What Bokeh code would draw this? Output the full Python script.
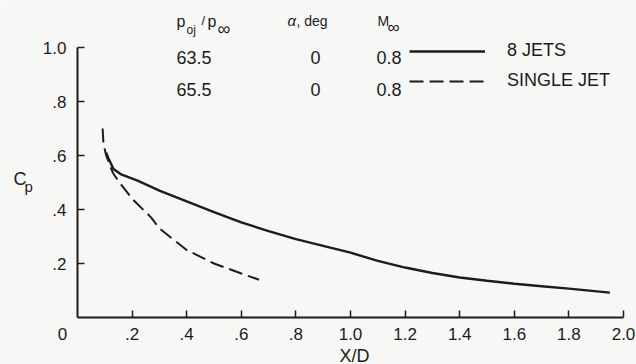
from bokeh.plotting import figure
from bokeh.models import Range1d, Label, Legend, LegendItem, FixedTicker
from bokeh.embed import file_html
from bokeh.resources import INLINE
from bokeh.core.properties import value

# ---- data ----
x_8jets = [0.105, 0.113, 0.132, 0.16, 0.22, 0.30, 0.40, 0.50, 0.60, 0.70, 0.80, 0.90,
           1.00, 1.10, 1.20, 1.30, 1.40, 1.50, 1.60, 1.70, 1.80, 1.95]
cp_8jets = [0.61, 0.59, 0.55, 0.53, 0.507, 0.47, 0.43, 0.39, 0.352, 0.32, 0.29, 0.265,
            0.24, 0.21, 0.185, 0.165, 0.148, 0.136, 0.125, 0.116, 0.107, 0.092]
x_single = [0.092, 0.095, 0.105, 0.13, 0.15, 0.20, 0.27, 0.30, 0.40, 0.50, 0.60, 0.665]
cp_single = [0.70, 0.645, 0.60, 0.535, 0.505, 0.44, 0.37, 0.33, 0.25, 0.20, 0.163, 0.14]

x_ticks = [0.2, 0.4, 0.6, 0.8, 1.0, 1.2, 1.4, 1.6, 1.8, 2.0]
x_tick_labels = [".2", ".4", ".6", ".8", "1.0", "1.2", "1.4", "1.6", "1.8", "2.0"]
y_ticks = [0.2, 0.4, 0.6, 0.8, 1.0]
y_tick_labels = [".2", ".4", ".6", ".8", "1.0"]

ratio_vals = ["63.5", "65.5"]
alpha_vals = ["0", "0"]
mach_vals = ["0.8", "0.8"]
series_names = ["8 JETS", "SINGLE JET"]

# ---- layout (pixel geometry of the reference) ----
W, H = 636, 364
X0PX, X2PX, Y0PX, Y1PX = 77, 623, 317, 47
PXU_X = (X2PX - X0PX) / 2.0
PXU_Y = (Y0PX - Y1PX) / 1.0

def dx(px):
    return (px - X0PX) / PXU_X

def dy(py):
    return (Y0PX - py) / PXU_Y

FONT = "Liberation Sans"
INK = "#1c1c1c"
BG = "#f7f7f5"

p = figure(width=W, height=H, output_backend="svg", toolbar_location=None,
           x_range=Range1d(dx(0), dx(W)), y_range=Range1d(dy(H), dy(0)),
           min_border=0)
p.background_fill_color = BG
p.border_fill_color = BG
p.outline_line_color = None
p.xgrid.visible = False
p.ygrid.visible = False

for ax, ticks, labels, bnds in ((p.xaxis[0], x_ticks, x_tick_labels, (0, 2.0)),
                                (p.yaxis[0], y_ticks, y_tick_labels, (0, 1.0))):
    ax.fixed_location = 0
    ax.ticker = FixedTicker(ticks=ticks)
    ax.major_label_overrides = {t: l for t, l in zip(ticks, labels)}
    ax.bounds = bnds
    ax.axis_line_color = INK
    ax.axis_line_width = 2
    ax.major_tick_line_color = INK
    ax.major_tick_line_width = 1.5
    ax.major_tick_in = 7
    ax.major_tick_out = 0
    ax.minor_tick_line_color = None
    ax.major_label_text_font = FONT
    ax.major_label_text_font_size = "17px"
    ax.major_label_text_color = INK
p.xaxis.major_label_standoff = 10
p.yaxis.major_label_standoff = 11

r1 = p.line(x_8jets, cp_8jets, line_width=2.4, line_color=INK)
r2 = p.line(x_single, cp_single, line_width=2.0, line_color=INK, line_dash="14 6")

legend = Legend(items=[LegendItem(label=series_names[0], renderers=[r1]),
                       LegendItem(label=series_names[1], renderers=[r2])],
                location=(409, H - 91), orientation="vertical",
                glyph_width=76, glyph_height=20, label_height=20, spacing=9,
                padding=0, margin=0, label_standoff=22,
                label_text_font=FONT, label_text_font_size="18px",
                label_text_color=INK,
                background_fill_alpha=0, border_line_alpha=0)
p.add_layout(legend)

# table columns
rows_y = [dy(57), dy(89)]
p.text(x=[dx(176)] * 2, y=rows_y, text=ratio_vals, text_font=value(FONT),
       text_font_size="18px", text_color=INK, text_baseline="middle", text_align="left")
p.text(x=[dx(315)] * 2, y=rows_y, text=alpha_vals, text_font=value(FONT),
       text_font_size="18px", text_color=INK, text_baseline="middle", text_align="center")
p.text(x=[dx(376)] * 2, y=rows_y, text=mach_vals, text_font=value(FONT),
       text_font_size="18px", text_color=INK, text_baseline="middle", text_align="left")

def lab(px, py, txt, size, align="left", style="normal"):
    p.add_layout(Label(x=dx(px), y=dy(py), text=txt, text_font=FONT,
                       text_font_size=size, text_color=INK, text_align=align,
                       text_baseline="middle", text_font_style=style))

# headers
lab(176, 21, "p", "16px")
lab(186, 29, "oj", "12px")
lab(201, 20, "/", "13px")
lab(207, 21, "p", "16px")
lab(217, 28, "\u221e", "18px")
lab(287, 20, "\u03b1", "15px", style="italic")
lab(296, 20, ", deg", "14px")
lab(377, 20, "M", "14px")
lab(387, 27, "\u221e", "17px")

# axis titles and origin
lab(62, 333, "0", "17px", align="center")
lab(354, 355, "X/D", "18px", align="center")
lab(13, 178, "C", "18px")
lab(24, 186, "p", "15px")

open("out.html", "w").write(file_html(p, INLINE))
